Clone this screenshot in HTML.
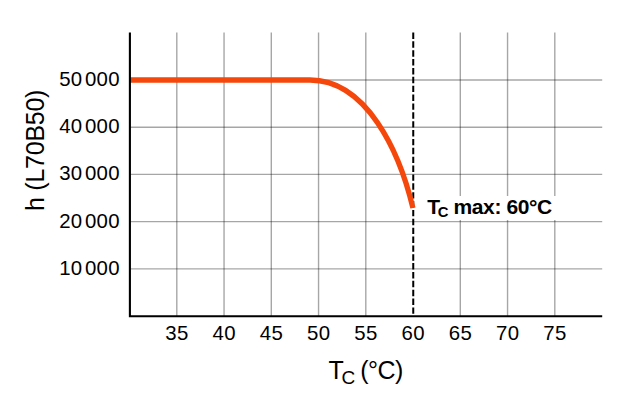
<!DOCTYPE html>
<html><head><meta charset="utf-8"><style>
html,body{margin:0;padding:0;background:#fff;}
svg{display:block;}
text{font-family:"Liberation Sans",Arial,sans-serif;fill:#000;}
</style></head><body>
<svg width="638" height="402" viewBox="0 0 638 402">
<rect width="638" height="402" fill="#fff"/>
<g stroke="#000" stroke-opacity="0.35" stroke-width="1.4" fill="none"><line x1="176.80" y1="32.5" x2="176.80" y2="316" /><line x1="224.05" y1="32.5" x2="224.05" y2="316" /><line x1="271.30" y1="32.5" x2="271.30" y2="316" /><line x1="318.55" y1="32.5" x2="318.55" y2="316" /><line x1="365.80" y1="32.5" x2="365.80" y2="316" /><line x1="460.30" y1="32.5" x2="460.30" y2="316" /><line x1="507.55" y1="32.5" x2="507.55" y2="316" /><line x1="554.80" y1="32.5" x2="554.80" y2="316" /><line x1="129.75" y1="268.87" x2="602.2" y2="268.87" /><line x1="129.75" y1="221.64" x2="602.2" y2="221.64" /><line x1="129.75" y1="174.41" x2="602.2" y2="174.41" /><line x1="129.75" y1="127.18" x2="602.2" y2="127.18" /><line x1="129.75" y1="79.95" x2="602.2" y2="79.95" /></g>
<line x1="413.25" y1="32.5" x2="413.25" y2="316" stroke="#000" stroke-width="2" stroke-dasharray="6.4 2.47"/>
<rect x="424" y="196" width="134" height="24" fill="#fff"/>
<path d="M129.75,80 L310,80 C366.45,80 399.4,151.25 412.9,208.0" stroke="#f5470b" stroke-width="5.3" fill="none"/>
<path d="M129.9,32.5 V316.2 H602.2" stroke="#000" stroke-width="2.1" fill="none"/>
<g font-size="20.4" letter-spacing="0.25"><text x="176.90" y="340.1" text-anchor="middle">35</text><text x="224.15" y="340.1" text-anchor="middle">40</text><text x="271.40" y="340.1" text-anchor="middle">45</text><text x="318.65" y="340.1" text-anchor="middle">50</text><text x="365.90" y="340.1" text-anchor="middle">55</text><text x="413.15" y="340.1" text-anchor="middle">60</text><text x="460.40" y="340.1" text-anchor="middle">65</text><text x="507.65" y="340.1" text-anchor="middle">70</text><text x="554.90" y="340.1" text-anchor="middle">75</text><text x="119.8" y="274.77" text-anchor="end">10<tspan dx="2.6">000</tspan></text><text x="119.8" y="227.54" text-anchor="end">20<tspan dx="2.6">000</tspan></text><text x="119.8" y="180.31" text-anchor="end">30<tspan dx="2.6">000</tspan></text><text x="119.8" y="133.08" text-anchor="end">40<tspan dx="2.6">000</tspan></text><text x="119.8" y="85.85" text-anchor="end">50<tspan dx="2.6">000</tspan></text></g>
<text transform="translate(44.2,211) rotate(-90)" font-size="25" letter-spacing="-0.25">h (L70B50)</text>
<text x="328.6" y="378.8" font-size="25" letter-spacing="-0.5">T<tspan font-size="19" dy="5.5" dx="-1.9">C</tspan><tspan dy="-5.5" dx="-1"> (°C)</tspan></text>
<text x="427.2" y="214" font-size="21" font-weight="bold" letter-spacing="-0.4">T<tspan font-size="14.8" dy="3.4" dx="-1.8">C</tspan><tspan dy="-3.4"> max: 60°C</tspan></text>
</svg>
</body></html>
